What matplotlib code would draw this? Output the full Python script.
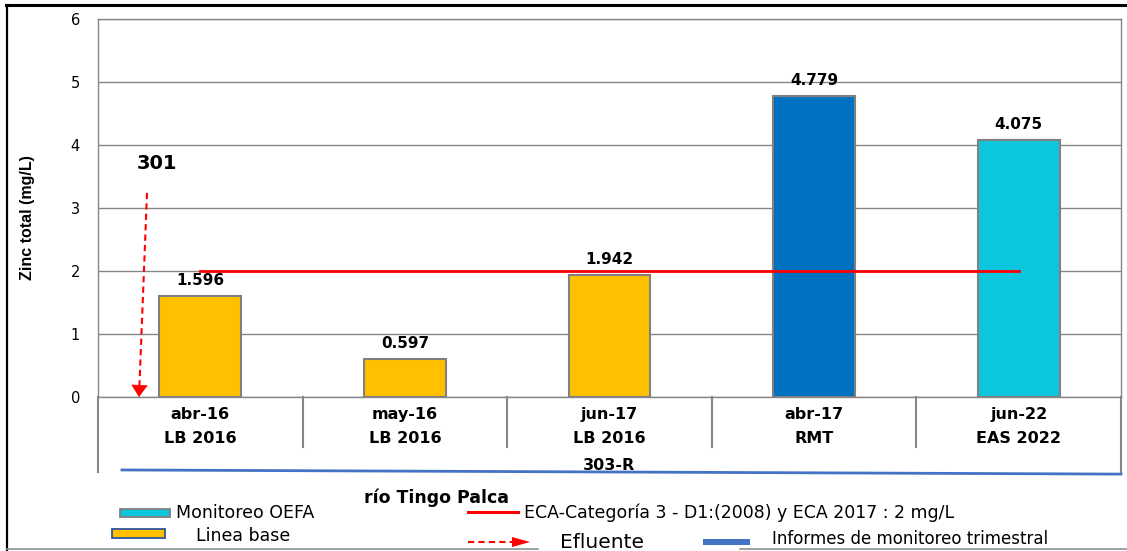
import matplotlib
matplotlib.use("Agg")
import matplotlib.pyplot as plt
from matplotlib.lines import Line2D
from matplotlib.patches import Rectangle

# ---- data ----
months = ["abr-16", "may-16", "jun-17", "abr-17", "jun-22"]
sources = ["LB 2016", "LB 2016", "LB 2016", "RMT", "EAS 2022"]
station = "303-R"
values = [1.596, 0.597, 1.942, 4.779, 4.075]
bar_colors = ["#FFC000", "#FFC000", "#FFC000", "#0070C0", "#0CC6DE"]
eca_value = 2.0
effluent_label = "301"
effluent_top = 3.24
y_ticks = [0, 1, 2, 3, 4, 5, 6]
ylabel = "Zinc total (mg/L)"
river = "río Tingo Palca"
legend_labels = ["Monitoreo OEFA", "ECA-Categoría 3 - D1:(2008) y ECA 2017 : 2 mg/L",
                 "Linea base", "Efluente", "Informes de monitoreo trimestral"]

W, H = 1127, 551
fig = plt.figure(figsize=(W / 100, H / 100), dpi=100)
fig.patch.set_facecolor("white")

def fx(px):
    return px / W

def fy(py):
    return 1 - py / H

L, R, T, B = 98, 1121, 19, 397
ax = fig.add_axes([fx(L), fy(B), fx(R) - fx(L), fy(T) - fy(B)])

GRAY = "#868686"
x = list(range(len(values)))
ax.bar(x, values, width=0.40, color=bar_colors, edgecolor="#808080", linewidth=1.5, zorder=3)

for xi, v in zip(x, values):
    ax.annotate(f"{v:.3f}", (xi, v), xytext=(0, 8), textcoords="offset points",
                ha="center", va="baseline", fontsize=11, fontweight="bold",
                family="DejaVu Sans", color="black", zorder=5)

# ECA line
ax.plot([x[0], x[-1]], [eca_value, eca_value], color="#FF0000", lw=2.0, zorder=4)

# effluent arrow: dashed shaft + solid head
ax.plot([-0.2605, -0.2975], [effluent_top, 0.175], color="#FF0000", lw=1.5,
        linestyle=(0, (3, 2)), zorder=6)
ax.annotate("", xy=(-0.2996, 0), xytext=(-0.2975, 0.175),
            arrowprops=dict(arrowstyle="-|>,head_length=0.8,head_width=0.55",
                            color="#FF0000", lw=0.5, shrinkA=0, shrinkB=0), zorder=6)
ax.text(-0.21, 3.71, effluent_label, ha="center", va="center", fontsize=14,
        fontweight="bold", family="DejaVu Sans")

ax.set_xlim(-0.5, 4.5)
ax.set_ylim(0, 6)
ax.set_yticks(y_ticks)
ax.set_yticklabels([str(t) for t in y_ticks], fontsize=10.5, family="DejaVu Sans")
ax.tick_params(axis="y", length=0, pad=13)
ax.set_xticks([])
ax.grid(axis="y", color=GRAY, lw=1.0, zorder=0)
ax.set_axisbelow(True)
for s in ax.spines.values():
    s.set_color(GRAY)
    s.set_linewidth(1.0)

ax.text(-0.069, 0.475, ylabel, transform=ax.transAxes, rotation=90, ha="center",
        va="center", fontsize=11.5, fontweight="bold", family="Liberation Sans")

# category table below axis
xt = ax.get_xaxis_transform()
for xi, m, s in zip(x, months, sources):
    ax.text(xi, -0.045, m, transform=xt, ha="center", va="center", fontsize=11.5,
            fontweight="bold", family="DejaVu Sans", clip_on=False)
    ax.text(xi, -0.111, s, transform=xt, ha="center", va="center", fontsize=11.5,
            fontweight="bold", family="DejaVu Sans", clip_on=False)
for b in [0.5, 1.5, 2.5, 3.5]:
    ax.plot([b, b], [0, -0.132], transform=xt, color=GRAY, lw=1.5, clip_on=False)
for b in [-0.5, 4.5]:
    ax.plot([b, b], [0, -0.198], transform=xt, color=GRAY, lw=1.5, clip_on=False)
ax.text(2.0, -0.18, station, transform=xt, ha="center", va="center", fontsize=11.5,
        fontweight="bold", family="DejaVu Sans", clip_on=False)
ax.plot([-0.383, 4.5], [-0.193, -0.204], transform=xt, color="#4472C4", lw=2.0,
        clip_on=False)

# frame
fig.add_artist(Line2D([fx(6), fx(1127)], [fy(5), fy(5)], color="black", lw=2.2))
fig.add_artist(Line2D([fx(7), fx(7)], [fy(5), fy(551)], color="black", lw=1.6))
fig.add_artist(Line2D([fx(7), fx(538)], [fy(549), fy(549)], color="#909090", lw=1.2))
fig.add_artist(Line2D([fx(740), fx(1127)], [fy(549), fy(549)], color="#909090", lw=1.2))

# legend area
fig.text(fx(437), fy(503), river, ha="center", va="baseline", fontsize=12.5,
         fontweight="bold", family="DejaVu Sans")
fig.add_artist(Rectangle((fx(350), fy(508)), fx(180), 5 / H, transform=fig.transFigure,
                         facecolor="white", edgecolor="none", zorder=3))

fig.add_artist(Rectangle((fx(120), fy(517)), fx(50), 8 / H, transform=fig.transFigure,
                         facecolor="#0CC6DE", edgecolor="#7F7F7F", lw=1.3, zorder=4))
fig.text(fx(176), fy(513), legend_labels[0], ha="left", va="center", fontsize=12.5,
         family="DejaVu Sans")
fig.add_artist(Line2D([fx(468), fx(518)], [fy(512), fy(512)], color="#FF0000", lw=2.2))
fig.text(fx(524), fy(513), legend_labels[1], ha="left", va="center", fontsize=12.5,
         family="DejaVu Sans")
fig.add_artist(Rectangle((fx(112), fy(538)), fx(53), 9 / H, transform=fig.transFigure,
                         facecolor="#FFC000", edgecolor="#2F5597", lw=1.3, zorder=4))
fig.text(fx(196), fy(536), legend_labels[2], ha="left", va="center", fontsize=12.5,
         family="DejaVu Sans")
fig.add_artist(Line2D([fx(468), fx(514)], [fy(542), fy(542)], color="#FF0000", lw=1.5,
                      linestyle=(0, (3, 2))))
fig.add_artist(plt.Polygon([[fx(512), fy(537)], [fx(530), fy(542)], [fx(512), fy(547)]],
                           closed=True, transform=fig.transFigure, facecolor="#FF0000",
                           edgecolor="none"))
fig.text(fx(560), fy(542), legend_labels[3], ha="left", va="center", fontsize=14.5,
         family="DejaVu Sans")
fig.add_artist(Rectangle((fx(703), fy(545)), fx(47), 6 / H, transform=fig.transFigure,
                         facecolor="#4472C4", edgecolor="none", zorder=4))
fig.text(fx(772), fy(539), legend_labels[4], ha="left", va="center", fontsize=12,
         family="DejaVu Sans")

fig.savefig("out.png", dpi=100, facecolor="white")
